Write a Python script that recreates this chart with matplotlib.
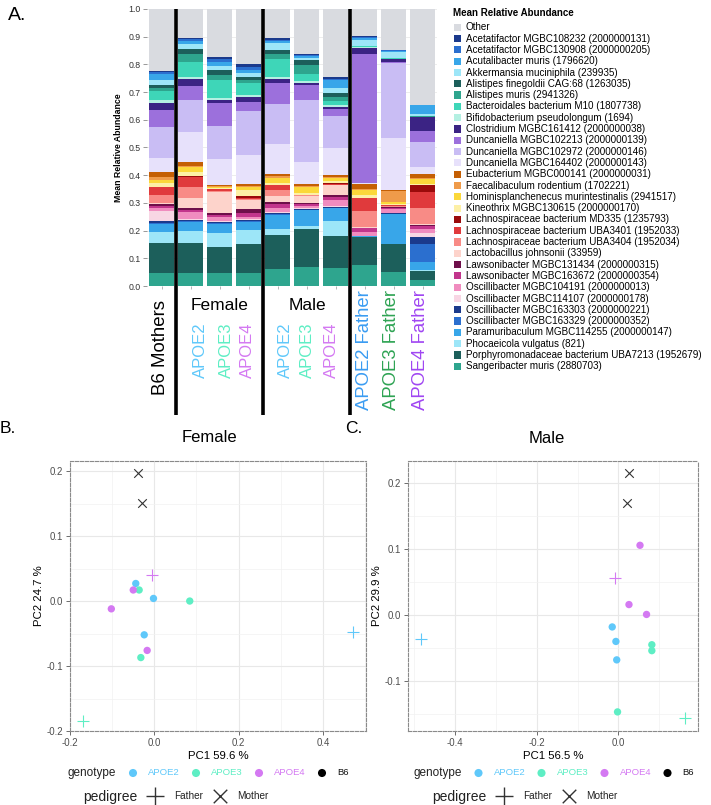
import matplotlib
matplotlib.use("Agg")
import matplotlib.pyplot as plt
from matplotlib.patches import Rectangle
import numpy as np

plt.rcParams['font.family'] = ['Liberation Sans', 'DejaVu Sans']
plt.rcParams['axes.unicode_minus'] = False

W, H = 711, 805

# ---------------- Panel A data (stack order: bottom -> top) ----------------
taxa = [
    "Sangeribacter muris (2880703)",
    "Porphyromonadaceae bacterium UBA7213 (1952679)",
    "Phocaeicola vulgatus (821)",
    "Paramuribaculum MGBC114255 (2000000147)",
    "Oscillibacter MGBC163329 (2000000352)",
    "Oscillibacter MGBC163303 (2000000221)",
    "Oscillibacter MGBC114107 (2000000178)",
    "Oscillibacter MGBC104191 (2000000013)",
    "Lawsonibacter MGBC163672 (2000000354)",
    "Lawsonibacter MGBC131434 (2000000315)",
    "Lactobacillus johnsonii (33959)",
    "Lachnospiraceae bacterium UBA3404 (1952034)",
    "Lachnospiraceae bacterium UBA3401 (1952033)",
    "Lachnospiraceae bacterium MD335 (1235793)",
    "Kineothrix MGBC130615 (2000000170)",
    "Hominisplanchenecus murintestinalis (2941517)",
    "Faecalibaculum rodentium (1702221)",
    "Eubacterium MGBC000141 (2000000031)",
    "Duncaniella MGBC164402 (2000000143)",
    "Duncaniella MGBC102972 (2000000146)",
    "Duncaniella MGBC102213 (2000000139)",
    "Clostridium MGBC161412 (2000000038)",
    "Bifidobacterium pseudolongum (1694)",
    "Bacteroidales bacterium M10 (1807738)",
    "Alistipes muris (2941326)",
    "Alistipes finegoldii CAG:68 (1263035)",
    "Akkermansia muciniphila (239935)",
    "Acutalibacter muris (1796620)",
    "Acetatifactor MGBC130908 (2000000205)",
    "Acetatifactor MGBC108232 (2000000131)",
]
taxa_colors = [
    '#2ea58e', '#1c5f5b', '#9de6f8', '#38a6e9', '#2b6fcf', '#1b3a8c',
    '#f8d6e4', '#f08cbf', '#c2358c', '#6e0f4a', '#fdd3cb', '#f88b86',
    '#e03a3c', '#9b0b0b', '#fdf0a6', '#fbd83a', '#ef9b4a', '#c45f04',
    '#e7e1fb', '#c9bdf4', '#9c70dc', '#3b2384', '#b4f0e2', '#3ed6b8',
    '#2ea58e', '#1c5f5b', '#9de6f8', '#38a6e9', '#2b6fcf', '#1b3a8c',
]
other_color = '#d9dbe0'

b6_mothers = [0.048, 0.106, 0.042, 0.028, 0.005, 0.007, 0.034, 0.012, 0.008, 0.005,
              0.006, 0.027, 0.028, 0.003, 0.012, 0.010, 0.012, 0.018, 0.052, 0.111,
              0.063, 0.025, 0.008, 0.034, 0.012, 0.009, 0.018, 0.022, 0.006, 0.005]
fem_apoe2 = [0.048, 0.108, 0.043, 0.033, 0.002, 0.004, 0.004, 0.024, 0.010, 0.004,
             0.036, 0.042, 0.037, 0.002, 0.014, 0.018, 0.004, 0.016, 0.108, 0.114,
             0.052, 0.023, 0.010, 0.054, 0.026, 0.019, 0.017, 0.012, 0.007, 0.005]
fem_apoe3 = [0.048, 0.094, 0.048, 0.034, 0.003, 0.005, 0.004, 0.012, 0.008, 0.007,
             0.077, 0.004, 0.005, 0.002, 0.003, 0.004, 0.002, 0.004, 0.096, 0.119,
             0.082, 0.010, 0.007, 0.067, 0.018, 0.018, 0.012, 0.014, 0.012, 0.007]
fem_apoe4 = [0.048, 0.102, 0.052, 0.030, 0.002, 0.005, 0.003, 0.006, 0.016, 0.014,
             0.034, 0.003, 0.002, 0.007, 0.022, 0.012, 0.002, 0.007, 0.106, 0.157,
             0.036, 0.017, 0.007, 0.042, 0.012, 0.012, 0.012, 0.012, 0.010, 0.012]
male_apoe2 = [0.060, 0.124, 0.020, 0.054, 0.002, 0.005, 0.003, 0.013, 0.016, 0.005,
              0.024, 0.019, 0.019, 0.002, 0.007, 0.018, 0.006, 0.006, 0.108, 0.145,
              0.078, 0.014, 0.007, 0.065, 0.019, 0.012, 0.028, 0.006, 0.004, 0.008]
male_apoe3 = [0.070, 0.135, 0.010, 0.058, 0.002, 0.004, 0.003, 0.006, 0.007, 0.005,
              0.024, 0.003, 0.002, 0.001, 0.006, 0.020, 0.004, 0.010, 0.078, 0.225,
              0.051, 0.009, 0.006, 0.028, 0.032, 0.018, 0.006, 0.006, 0.005, 0.004]
male_apoe4 = [0.065, 0.115, 0.055, 0.045, 0.002, 0.004, 0.004, 0.022, 0.009, 0.008,
              0.034, 0.002, 0.005, 0.002, 0.007, 0.012, 0.004, 0.006, 0.099, 0.114,
              0.026, 0.007, 0.005, 0.016, 0.014, 0.016, 0.016, 0.031, 0.004, 0.004]
apoe2_father = [0.076, 0.100, 0.002, 0.002, 0.000, 0.000, 0.002, 0.014, 0.012, 0.002,
                0.003, 0.058, 0.046, 0.002, 0.008, 0.020, 0.002, 0.020, 0.002, 0.002,
                0.464, 0.024, 0.002, 0.002, 0.001, 0.001, 0.022, 0.007, 0.003, 0.002]
apoe3_father = [0.050, 0.101, 0.002, 0.106, 0.002, 0.001, 0.002, 0.014, 0.005, 0.002,
                0.002, 0.002, 0.002, 0.001, 0.004, 0.006, 0.040, 0.003, 0.190, 0.270,
                0.002, 0.012, 0.002, 0.001, 0.001, 0.001, 0.020, 0.006, 0.001, 0.001]
apoe4_father = [0.022, 0.033, 0.002, 0.029, 0.065, 0.025, 0.014, 0.014, 0.014, 0.003,
                0.002, 0.058, 0.058, 0.025, 0.004, 0.020, 0.002, 0.014, 0.025, 0.090,
                0.040, 0.050, 0.001, 0.001, 0.001, 0.001, 0.007, 0.032, 0.001, 0.001]

bars = [b6_mothers, fem_apoe2, fem_apoe3, fem_apoe4, male_apoe2, male_apoe3,
        male_apoe4, apoe2_father, apoe3_father, apoe4_father]

# ---------------- PCA data ----------------
geno_colors = {'APOE2': '#5fc8fa', 'APOE3': '#5eeec4', 'APOE4': '#d479f2', 'B6': '#000000'}

fem_pc1 = [-0.044, -0.002, -0.024, -0.036, 0.084, -0.032, -0.050, -0.102, -0.017,
           -0.005, -0.168, 0.470, -0.039, -0.029]
fem_pc2 = [0.027, 0.004, -0.052, 0.017, 0.000, -0.087, 0.017, -0.012, -0.076,
           0.040, -0.184, -0.048, 0.197, 0.151]
fem_geno = ['APOE2', 'APOE2', 'APOE2', 'APOE3', 'APOE3', 'APOE3', 'APOE4', 'APOE4', 'APOE4',
            'APOE4', 'APOE3', 'APOE2', 'B6', 'B6']
fem_ped = ['', '', '', '', '', '', '', '', '', 'Father', 'Father', 'Father', 'Mother', 'Mother']

male_pc1 = [-0.015, -0.006, -0.004, 0.082, 0.082, -0.002, 0.053, 0.026, 0.069,
            -0.008, 0.163, -0.483, 0.026, 0.021]
male_pc2 = [-0.018, -0.040, -0.068, -0.045, -0.054, -0.147, 0.106, 0.016, 0.001,
            0.057, -0.157, -0.037, 0.216, 0.170]
male_geno = fem_geno
male_ped = fem_ped

fig = plt.figure(figsize=(W / 100, H / 100), dpi=100)

# ---------------- Panel A ----------------
axA = fig.add_axes([147 / W, 1 - 286 / H, 290 / W, 277 / H])
x = np.arange(len(bars))
data = np.array(bars).T
bottom = np.zeros(len(bars))
for vals, col in zip(data, taxa_colors):
    axA.bar(x, vals, bottom=bottom, width=0.89, color=col, linewidth=0, zorder=2)
    bottom += vals
axA.bar(x, 1 - bottom, bottom=bottom, width=0.89, color=other_color, linewidth=0, zorder=2)
axA.set_xlim(-0.5, 9.5)
axA.set_ylim(0, 1)
axA.set_yticks(np.arange(0, 1.01, 0.1))
axA.set_yticklabels([f"{v:.1f}" for v in np.arange(0, 1.01, 0.1)])
axA.set_xticks(x)
axA.set_xticklabels([])
axA.tick_params(axis='y', length=3, width=0.6, color='#888888', labelsize=6.3, pad=1.5, labelcolor='#333333')
axA.tick_params(axis='x', length=2, width=0.6, color='#aaaaaa')
axA.yaxis.grid(True, color='#e6e6e6', lw=0.5, zorder=0)
for s in axA.spines.values():
    s.set_visible(False)
axA.set_ylabel("Mean Relative Abundance", fontsize=6.3, fontweight='bold', labelpad=4)

for xs in [0.5, 3.5, 6.5]:
    axA.plot([xs, xs], [1.0, -0.465], color='black', lw=2.6, clip_on=False,
             solid_capstyle='butt', zorder=5)

xl = axA.get_xaxis_transform()
axA.text(-0.04, -0.05, "B6 Mothers", rotation=90, ha='center', va='top', fontsize=13.4, transform=xl)
axA.text(1.99, -0.069, "Female", ha='center', va='center', fontsize=12.5, transform=xl)
axA.text(5.02, -0.069, "Male", ha='center', va='center', fontsize=12.5, transform=xl)
apoe_pos = [1.34, 2.23, 2.95, 4.26, 5.05, 5.87]
apoe_lab = ['APOE2', 'APOE3', 'APOE4'] * 2
for px, lab in zip(apoe_pos, apoe_lab):
    axA.text(px, -0.13, lab, rotation=90, ha='center', va='top', fontsize=12,
             color=geno_colors[lab], transform=xl)
father_pos = [7.01, 7.94, 8.93]
father_lab = ['APOE2 Father', 'APOE3 Father', 'APOE4 Father']
father_col = ['#3a9cf2', '#2ea353', '#a046f2']
for px, lab, c in zip(father_pos, father_lab, father_col):
    axA.text(px, -0.014, lab, rotation=90, ha='center', va='top', fontsize=13.3,
             color=c, transform=xl)

# overlay axes in pixel coordinates for labels / legends
ov = fig.add_axes([0, 0, 1, 1])
ov.set_xlim(0, W)
ov.set_ylim(H, 0)
ov.axis('off')
ov.patch.set_visible(False)

ov.text(8, 15, "A.", fontsize=14, va='center', ha='left')
ov.text(0, 428, "B.", fontsize=12.5, va='center', ha='left')
ov.text(345, 428, "C.", fontsize=12.5, va='center', ha='left')

# legend of panel A
ov.text(453, 13, "Mean Relative Abundance", fontsize=7, fontweight='bold', va='center', ha='left')
leg_names = ["Other"] + taxa[::-1]
leg_cols = [other_color] + taxa_colors[::-1]
for i, (nm, c) in enumerate(zip(leg_names, leg_cols)):
    yy = 27.3 + i * 11.3
    ov.add_patch(Rectangle((454, yy - 3.6), 7.2, 7.2, color=c, lw=0))
    ov.text(466, yy, nm, fontsize=7.1, va='center', ha='left')


# ---------------- PCA panels ----------------
def pca_panel(ax, pc1, pc2, geno, ped, xmaj, ymaj, xmin, ymin):
    ax.set_xticks(xmaj)
    ax.set_yticks(ymaj)
    ax.set_xticks(xmin, minor=True)
    ax.set_yticks(ymin, minor=True)
    ax.set_xticklabels([f"{v:.1f}" for v in xmaj])
    ax.set_yticklabels([f"{v:.1f}" for v in ymaj])
    ax.grid(which='major', color='#e8e8e8', lw=0.8)
    ax.grid(which='minor', color='#f2f2f2', lw=0.5)
    ax.set_axisbelow(True)
    ax.tick_params(which='minor', length=0)
    ax.tick_params(which='major', length=3, width=0.6, color='#555555',
                   labelsize=6.9, labelcolor='#4d4d4d', pad=2)
    for s in ax.spines.values():
        s.set_color('#8a8a8a')
        s.set_linewidth(0.8)
        s.set_linestyle((0, (3, 1.5)))
    for xv, yv, g, p in zip(pc1, pc2, geno, ped):
        if p == 'Father':
            ax.scatter(xv, yv, marker='+', s=75, color=geno_colors[g], linewidths=0.8, zorder=3)
        elif p == 'Mother':
            ax.scatter(xv, yv, marker='x', s=38, color='#333333', linewidths=0.8, zorder=3)
        else:
            ax.scatter(xv, yv, s=28, color=geno_colors[g], edgecolors='none', zorder=3)


axB = fig.add_axes([70 / W, 1 - 731 / H, 296 / W, 270 / H])
pca_panel(axB, fem_pc1, fem_pc2, fem_geno, fem_ped,
          [-0.2, 0.0, 0.2, 0.4], [-0.2, -0.1, 0.0, 0.1, 0.2],
          [-0.1, 0.1, 0.3, 0.5], [-0.15, -0.05, 0.05, 0.15])
axB.set_xlim(-0.2, 0.502)
axB.set_ylim(-0.2, 0.2155)
axB.set_xlabel("PC1 59.6 %", fontsize=8.2, labelpad=2)
axB.set_ylabel("PC2 24.7 %", fontsize=8.2, labelpad=2)

axC = fig.add_axes([408 / W, 1 - 731 / H, 290 / W, 270 / H])
pca_panel(axC, male_pc1, male_pc2, male_geno, male_ped,
          [-0.4, -0.2, 0.0], [-0.1, 0.0, 0.1, 0.2],
          [-0.5, -0.3, -0.1, 0.1], [-0.15, -0.05, 0.05, 0.15])
axC.set_xlim(-0.515, 0.195)
axC.set_ylim(-0.176, 0.234)
axC.set_xlabel("PC1 56.5 %", fontsize=8.2, labelpad=2)
axC.set_ylabel("PC2 29.9 %", fontsize=8.2, labelpad=2)

ov.text(209, 437, "Female", fontsize=12, ha='center', va='center')
ov.text(547, 438, "Male", fontsize=12, ha='center', va='center')

# genotype / pedigree legends under each PCA panel
for gx, px in [(0, 0), (345.5, 349)]:
    ov.text(68 + gx, 773, "genotype", fontsize=8.5, va='center', ha='left', color='#222222')
    for k, g in enumerate(['APOE2', 'APOE3', 'APOE4', 'B6']):
        ov.scatter(133 + gx + k * 63, 773, s=34, color=geno_colors[g], edgecolors='none')
        ov.text(148 + gx + k * 63, 772, g, fontsize=6.8, va='center', ha='left',
                color=geno_colors[g] if g != 'B6' else '#111111')
    ov.text(83 + px, 797, "pedigree", fontsize=10, va='center', ha='left', color='#222222')
    ov.scatter(155 + px, 796, marker='+', s=150, color='#333333', linewidths=1.0)
    ov.text(174 + px, 796, "Father", fontsize=7.2, va='center', ha='left', color='#222222')
    ov.scatter(220 + px, 796, marker='x', s=95, color='#333333', linewidths=1.0)
    ov.text(237 + px, 796, "Mother", fontsize=7.2, va='center', ha='left', color='#222222')

fig.savefig("out.png", dpi=100)
